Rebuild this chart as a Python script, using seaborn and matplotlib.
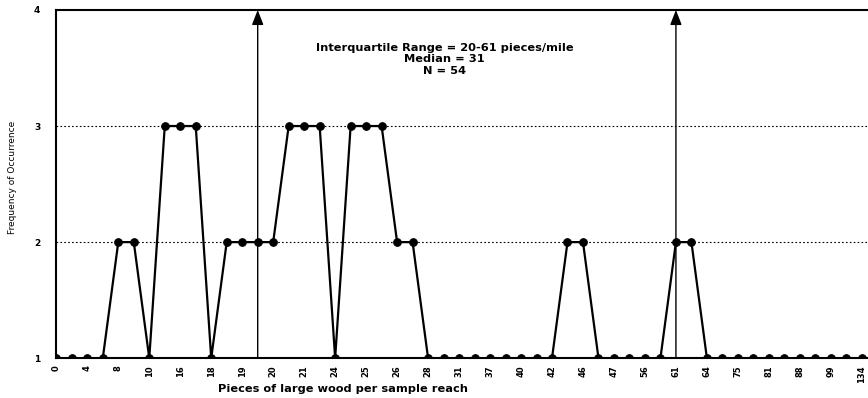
import numpy as np
import pandas as pd
import seaborn as sns
import matplotlib.pyplot as plt

# frequency of occurrence for each sampled value (read left to right)
freq = [1, 1, 1, 1, 2, 2, 1, 3, 3, 3, 1, 2, 2, 2, 2, 3, 3, 3, 1, 3, 3, 3, 2, 2, 1, 1,
        1, 1, 1, 1, 1, 1, 1, 2, 2, 1, 1, 1, 1, 1, 2, 2, 1, 1, 1, 1, 1, 1, 1, 1, 1, 1, 1]
# every second point carries a label
tick_labels = ['0', '4', '8', '10', '16', '18', '19', '20', '21', '24', '25', '26', '28',
               '31', '37', '40', '42', '46', '47', '56', '61', '64', '75', '81', '88',
               '99', '134']
quartile_pos = [13, 40]   # where the 20 and 61 arrows stand
y_ticks = [1, 2, 3, 4]

df = pd.DataFrame({'pos': np.arange(len(freq)), 'freq': freq})

sns.set_style('white')
plt.rcParams['font.family'] = ['DejaVu Sans']
plt.rcParams['text.color'] = 'black'
plt.rcParams['axes.labelcolor'] = 'black'
plt.rcParams['xtick.color'] = 'black'
plt.rcParams['ytick.color'] = 'black'

fig = plt.figure(figsize=(8.68, 3.98), dpi=100)
ax = fig.add_axes([0.064, 0.100, 0.936, 0.875])

sns.lineplot(data=df, x='pos', y='freq', ax=ax, color='black', linewidth=1.6,
             marker='o', markersize=5.5, markeredgecolor='black')

# dotted grid lines at 2 and 3
for yv in [2, 3]:
    ax.axhline(yv, color='black', linestyle=(0, (1.5, 2)), linewidth=0.8, zorder=0)

# quartile arrows
for xq in quartile_pos:
    ax.annotate('', xy=(xq, 4), xytext=(xq, 1),
                arrowprops=dict(arrowstyle='-|>,head_length=0.9,head_width=0.35',
                                color='black', lw=1.0, shrinkA=0, shrinkB=0))

ax.text(0.479, 0.905, 'Interquartile Range = 20-61 pieces/mile\nMedian = 31\nN = 54',
        transform=ax.transAxes, ha='center', va='top', fontsize=8.2, fontweight='bold',
        linespacing=1.17)

ax.set_xlim(-0.05, len(freq) - 0.6)
ax.set_ylim(1, 4)
ax.set_yticks(y_ticks)
ax.set_yticklabels([str(v) for v in y_ticks], fontsize=6.5, fontweight='bold')
ax.set_xticks(np.arange(0, len(freq), 2))
ax.set_xticklabels(tick_labels, rotation=90, fontsize=6, fontweight='bold')
ax.set_xticks(np.arange(1, len(freq), 2), minor=True)
ax.tick_params(axis='x', which='both', direction='inout', length=4, width=0.8, pad=3)
ax.tick_params(axis='y', length=3, pad=8)

ax.set_xlabel('Pieces of large wood per sample reach', fontsize=8.2, fontweight='bold')
ax.xaxis.set_label_coords(0.354, -0.075)
ax.set_ylabel('Frequency of Occurrence', fontsize=6.5)
ax.yaxis.set_label_coords(-0.047, 0.52)

for side in ['left', 'top', 'bottom']:
    ax.spines[side].set_color('black')
    ax.spines[side].set_linewidth(1.5)
ax.spines['right'].set_visible(False)

fig.savefig('out.png', dpi=100)
